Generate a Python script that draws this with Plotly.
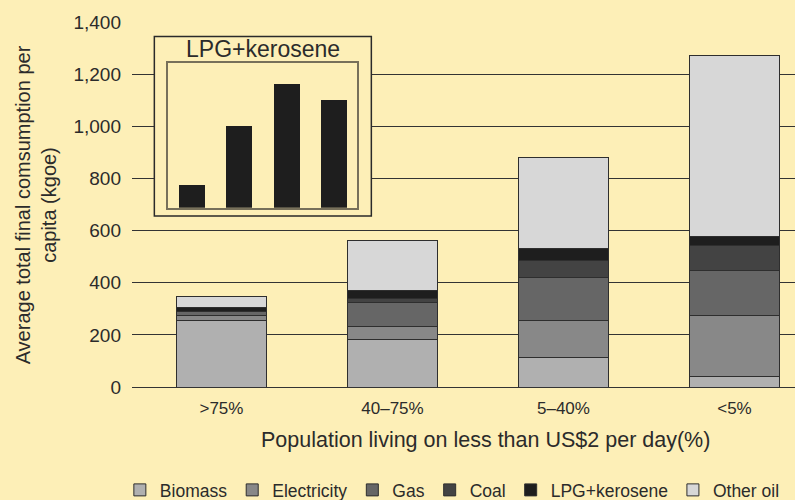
import plotly.graph_objects as go

categories = [">75%", "40–75%", "5–40%", "<5%"]
biomass = [256, 183, 114, 40]
electricity = [19, 48, 142, 234]
gas = [13, 92, 165, 174]
coal = [3, 17, 63, 94]
lpg_kerosene = [15, 32, 48, 35]
other_oil = [43, 189, 348, 695]

inset_values = [157, 566, 857, 746]

y_ticks = [0, 200, 400, 600, 800, 1000, 1200, 1400]
y_ticklabels = ["0", "200", "400", "600", "800", "1,000", "1,200", "1,400"]

series = [
    ("Biomass", biomass, "#b0b0b0"),
    ("Electricity", electricity, "#888888"),
    ("Gas", gas, "#666666"),
    ("Coal", coal, "#434343"),
    ("LPG+kerosene", lpg_kerosene, "#1e1e1e"),
    ("Other oil", other_oil, "#d7d7d7"),
]

BG = "#fdefb7"
FONT = "Liberation Sans, Arial, sans-serif"
TXT = "#2b2b2b"

XR = [-0.523, 3.354]
YR = [0, 1400]

def xd(f):
    return XR[0] + f * (XR[1] - XR[0])

def yd(f):
    return YR[0] + f * (YR[1] - YR[0])

fig = go.Figure()
for name, vals, col in series:
    fig.add_trace(go.Bar(
        x=categories, y=vals, name=name, marker_color=col,
        marker_line=dict(color="#2e2e2e", width=1), width=0.53,
        xaxis="x", yaxis="y",
    ))

fig.add_trace(go.Bar(
    x=categories, y=inset_values, marker_color="#1e1e1e",
    marker_line_width=0, width=0.55, showlegend=False,
    xaxis="x2", yaxis="y2",
))

fig.update_layout(
    width=795, height=500,
    paper_bgcolor=BG, plot_bgcolor=BG,
    barmode="stack",
    margin=dict(l=132, r=0, t=22, b=113),
    font=dict(family=FONT, color=TXT, size=15),
    xaxis=dict(
        range=XR, showgrid=False, showline=True, automargin=False,
        linecolor="#333333", linewidth=1, ticks="", ticklabelstandoff=6,
        tickfont=dict(size=17, color=TXT),
    ),
    yaxis=dict(
        range=YR, tickvals=y_ticks, ticktext=y_ticklabels, automargin=False,
        showgrid=True, gridcolor="#333333", gridwidth=1, zeroline=False,
        ticks="", ticklabelstandoff=10, tickfont=dict(size=19, color=TXT),
    ),
    xaxis2=dict(
        domain=[0.054, 0.339], anchor="y2", range=[-0.51, 3.48],
        showticklabels=False, showgrid=False, ticks="", showline=True,
        mirror=True, linecolor="#77705a", linewidth=1.5, zeroline=False,
    ),
    yaxis2=dict(
        domain=[0.491, 0.887], anchor="x2", range=[0, 1000],
        showticklabels=False, showgrid=False, ticks="", showline=True,
        mirror=True, linecolor="#77705a", linewidth=1.5, zeroline=False,
    ),
    legend=dict(
        orientation="h", xref="container", yref="container",
        x=0.569, xanchor="center", y=0.02, yanchor="middle",
        font=dict(size=17.5, color=TXT), itemwidth=30,
        traceorder="normal", bgcolor="rgba(0,0,0,0)",
    ),
    shapes=[dict(
        type="rect", xref="x", yref="y",
        x0=xd(0.0337), x1=xd(0.361), y0=yd(0.4685), y1=yd(0.960),
        fillcolor=BG, line=dict(color="#2a2a2a", width=1.5), layer="between",
    )],
    annotations=[
        dict(text="LPG+kerosene", xref="paper", yref="paper",
             x=0.197, y=0.925, xanchor="center", yanchor="middle",
             showarrow=False, font=dict(size=23, color=TXT)),
        dict(text="Average total final comsumption per<br>capita (kgoe)",
             xref="paper", yref="paper", x=-0.145, y=0.5, textangle=-90,
             xanchor="center", yanchor="middle", showarrow=False,
             font=dict(size=20, color=TXT)),
        dict(text="Population living on less than US$2 per day(%)",
             xref="paper", yref="paper", x=0.533, y=-0.145,
             xanchor="center", yanchor="middle", showarrow=False,
             font=dict(size=21.5, color=TXT)),
    ],
)

fig.write_html("out.html", config={"displayModeBar": False},
               post_script="document.body.style.margin='0';")
